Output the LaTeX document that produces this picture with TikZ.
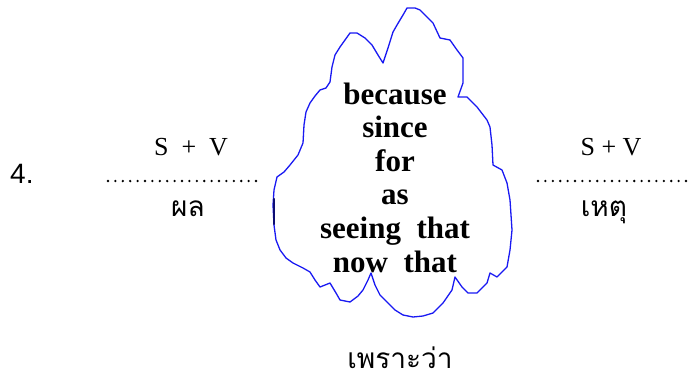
\documentclass[tikz,border=0pt]{standalone}
\usepackage{fontspec}
\setmainfont{Liberation Serif}
\newfontfamily\thaifont[Script=Thai]{Loma}
\newfontfamily\arialfont{Liberation Sans}
\definecolor{qqqqff}{rgb}{0.1,0.1,0.95}
\definecolor{qqqqbb}{rgb}{0.05,0.05,0.45}
\tikzset{
  blank/.style={line width=2.6pt,dash pattern=on 0pt off 7.4pt,line cap=round},
  svtext/.style={inner sep=0pt,anchor=base,font=\fontsize{26}{30}\selectfont},
  thaitext/.style={inner sep=0pt,anchor=base,font=\thaifont\fontsize{28}{32}\selectfont}
}
\begin{document}
\begin{tikzpicture}[line cap=round,line join=round,x=1pt,y=-1pt]
\useasboundingbox (0,0) rectangle (691,380);
%\draw [color=cqcqcq,dash pattern=on 1pt off 1pt] (0,0) grid (691,380);
\node[inner sep=0pt,anchor=base west,font=\arialfont\fontsize{28}{32}\selectfont] (num) at (10,183) {4.};
% left part
\node[svtext] (svl) at (191,155) {S~~+~~V};
\coordinate (bla) at (108,181);
\coordinate (blb) at (262,181);
\draw [blank] (bla) -- (blb);
\node[thaitext] (phon) at (188,216) {ผล};
% right part
\node[svtext] (svr) at (611,155) {S + V};
\coordinate (bra) at (538,181);
\coordinate (brb) at (691,181);
\draw [blank] (bra) -- (brb);
\node[thaitext] (het) at (604,216) {เหตุ};
% cloud
\draw [color=qqqqff,line width=1.3pt] (415,8) -- (407,8) -- (403,15) -- (397,25) -- (393,32) -- (388,48) -- (383,63) -- (378,55) -- (372,45) -- (365,38) -- (357,33) -- (350,33) -- (345,40) -- (340,47) -- (335,55) -- (332,67) -- (330,82) -- (326,88) -- (320,90) -- (315,96) -- (310,103) -- (306,112) -- (304,125) -- (303,143) -- (298,155) -- (290,165) -- (284,172) -- (277,177) -- (274,190) -- (273,205) -- (274,225) -- (276,240) -- (280,250) -- (286,258) -- (293,263) -- (303,268) -- (310,272) -- (315,280) -- (320,287) -- (325,285) -- (330,283) -- (336,293) -- (340,300) -- (350,302) -- (358,296) -- (363,290) -- (368,280) -- (371,273) -- (375,285) -- (380,295) -- (387,302) -- (395,310) -- (403,315) -- (413,317) -- (423,316) -- (433,313) -- (443,303) -- (452,290) -- (455,277) -- (462,287) -- (468,293) -- (477,293) -- (487,283) -- (490,273) -- (497,277) -- (507,267) -- (510,250) -- (512,230) -- (510,200) -- (507,183) -- (502,170) -- (493,165) -- (492,145) -- (490,127) -- (487,120) -- (477,107) -- (467,97) -- (458,97) -- (463,83) -- (463,58) -- (457,50) -- (450,40) -- (440,38) -- (433,23) -- (425,15) -- (420,10) -- cycle;
\draw [color=qqqqbb,line width=2.5pt] (274,199) -- (274,224);
\node[inner sep=0pt,align=center,font=\bfseries\fontsize{31}{33.6}\selectfont] (words) at (395,177.5) {because\\since\\for\\as\\seeing\ \ that\\now\ \ that};
\node[thaitext] (phro) at (400,368) {เพราะว่า};
\end{tikzpicture}
\end{document}
